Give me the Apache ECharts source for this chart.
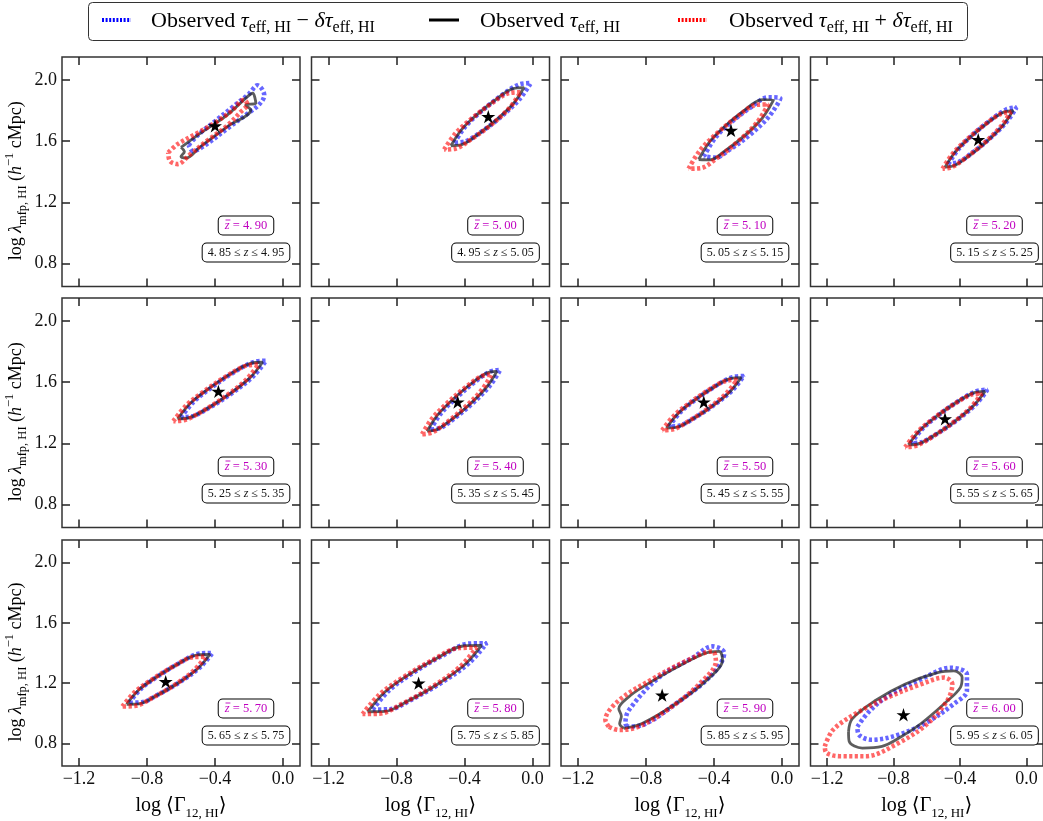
<!DOCTYPE html>
<html><head><meta charset="utf-8">
<script src="https://cdn.jsdelivr.net/npm/echarts@6/dist/echarts.min.js"></script>
<style>html,body{margin:0;padding:0;background:#fff}#c{width:1043px;height:821px}</style>
</head><body><div id="c"></div>
<script>
// ---------------- data ----------------
const zMean = ['4.90','5.00','5.10','5.20','5.30','5.40','5.50','5.60','5.70','5.80','5.90','6.00'];
const zLow  = ['4.85','4.95','5.05','5.15','5.25','5.35','5.45','5.55','5.65','5.75','5.85','5.95'];
const zHigh = ['4.95','5.05','5.15','5.25','5.35','5.45','5.55','5.65','5.75','5.85','5.95','6.05'];
const xTicks = [-1.2, -0.8, -0.4, 0.0];
const yTicks = [0.8, 1.2, 1.6, 2.0];
const bestFit = [[-0.40,1.70],[-0.26,1.76],[-0.30,1.67],[-0.29,1.61],[-0.38,1.54],[-0.44,1.47],[-0.46,1.47],[-0.49,1.36],[-0.69,1.21],[-0.67,1.20],[-0.705,1.12],[-0.74,0.99]];

// observed tau - dtau (blue)
const contourMinus = [
 [[-0.555,1.575],[-0.50,1.64],[-0.40,1.73],[-0.30,1.82],[-0.20,1.91],[-0.15,1.965],[-0.11,1.90],[-0.14,1.84],[-0.22,1.77],[-0.33,1.68],[-0.45,1.58],[-0.53,1.535]],
 [[-0.46,1.59],[-0.393,1.698],[-0.303,1.793],[-0.19,1.893],[-0.078,1.971],[-0.01,1.98],[-0.078,1.872],[-0.19,1.755],[-0.303,1.660],[-0.393,1.599]],
 [[-0.46,1.50],[-0.393,1.621],[-0.303,1.719],[-0.19,1.816],[-0.078,1.887],[-0.01,1.88],[-0.078,1.759],[-0.19,1.640],[-0.303,1.548],[-0.393,1.493]],
 [[-0.47,1.45],[-0.409,1.548],[-0.327,1.637],[-0.224,1.731],[-0.122,1.807],[-0.06,1.82],[-0.122,1.722],[-0.224,1.613],[-0.327,1.523],[-0.409,1.463]],
 [[-0.60,1.37],[-0.525,1.472],[-0.425,1.561],[-0.30,1.656],[-0.175,1.731],[-0.10,1.74],[-0.175,1.638],[-0.30,1.528],[-0.425,1.438],[-0.525,1.380]],
 [[-0.60,1.29],[-0.539,1.395],[-0.457,1.488],[-0.354,1.588],[-0.252,1.668],[-0.19,1.68],[-0.252,1.575],[-0.354,1.460],[-0.457,1.365],[-0.539,1.302]],
 [[-0.665,1.31],[-0.599,1.402],[-0.511,1.483],[-0.401,1.567],[-0.291,1.633],[-0.225,1.64],[-0.291,1.548],[-0.401,1.449],[-0.511,1.369],[-0.599,1.317]],
 [[-0.695,1.20],[-0.626,1.295],[-0.534,1.380],[-0.419,1.469],[-0.304,1.540],[-0.235,1.55],[-0.304,1.455],[-0.419,1.351],[-0.534,1.266],[-0.626,1.210]],
 [[-0.905,1.07],[-0.832,1.166],[-0.734,1.247],[-0.611,1.332],[-0.489,1.397],[-0.415,1.40],[-0.489,1.304],[-0.611,1.204],[-0.734,1.124],[-0.832,1.073]],
 [[-0.94,1.025],[-0.840,1.155],[-0.706,1.265],[-0.538,1.377],[-0.371,1.463],[-0.27,1.465],[-0.371,1.335],[-0.538,1.201],[-0.706,1.094],[-0.840,1.027]],
 [[-0.911,0.911],[-0.921,0.932],[-0.901,1.020],[-0.724,1.237],[-0.527,1.367],[-0.409,1.444],[-0.340,1.400],[-0.409,1.258],[-0.625,1.063],[-0.823,0.922]],
 [[-1.018,0.911],[-0.949,1.009],[-0.830,1.118],[-0.634,1.226],[-0.456,1.302],[-0.358,1.258],[-0.358,1.150],[-0.436,1.063],[-0.594,0.943],[-0.771,0.857],[-0.929,0.824],[-1.008,0.857]]
];
// observed tau (black)
const contourObs = [
 [[-0.60,1.56],[-0.55,1.60],[-0.485,1.652],[-0.327,1.772],[-0.209,1.891],[-0.179,1.913],[-0.160,1.848],[-0.219,1.837],[-0.190,1.804],[-0.327,1.695],[-0.485,1.565],[-0.57,1.49],[-0.60,1.50],[-0.58,1.53]],
 [[-0.48,1.57],[-0.416,1.677],[-0.330,1.770],[-0.222,1.867],[-0.115,1.943],[-0.05,1.95],[-0.115,1.843],[-0.222,1.729],[-0.330,1.637],[-0.416,1.577]],
 [[-0.49,1.48],[-0.424,1.599],[-0.336,1.697],[-0.226,1.797],[-0.116,1.872],[-0.05,1.87],[-0.116,1.751],[-0.226,1.631],[-0.336,1.536],[-0.424,1.478]],
 [[-0.49,1.43],[-0.429,1.528],[-0.347,1.617],[-0.244,1.711],[-0.142,1.787],[-0.08,1.80],[-0.142,1.702],[-0.244,1.593],[-0.347,1.503],[-0.429,1.443]],
 [[-0.62,1.36],[-0.545,1.462],[-0.445,1.551],[-0.32,1.646],[-0.195,1.721],[-0.12,1.73],[-0.195,1.628],[-0.32,1.518],[-0.445,1.428],[-0.545,1.370]],
 [[-0.62,1.28],[-0.559,1.385],[-0.477,1.478],[-0.374,1.578],[-0.272,1.658],[-0.21,1.67],[-0.272,1.565],[-0.374,1.450],[-0.477,1.355],[-0.559,1.292]],
 [[-0.68,1.30],[-0.614,1.392],[-0.526,1.473],[-0.416,1.557],[-0.306,1.623],[-0.24,1.63],[-0.306,1.538],[-0.416,1.439],[-0.526,1.359],[-0.614,1.307]],
 [[-0.71,1.19],[-0.641,1.285],[-0.549,1.370],[-0.434,1.459],[-0.319,1.530],[-0.25,1.54],[-0.319,1.445],[-0.434,1.341],[-0.549,1.256],[-0.641,1.200]],
 [[-0.92,1.06],[-0.847,1.156],[-0.749,1.237],[-0.626,1.322],[-0.504,1.387],[-0.43,1.39],[-0.504,1.294],[-0.626,1.194],[-0.749,1.114],[-0.847,1.063]],
 [[-0.97,1.01],[-0.870,1.140],[-0.736,1.250],[-0.568,1.362],[-0.401,1.448],[-0.30,1.45],[-0.401,1.320],[-0.568,1.186],[-0.736,1.079],[-0.870,1.012]],
 [[-0.93,0.90],[-0.955,0.93],[-0.945,0.98],[-0.96,1.03],[-0.90,1.11],[-0.823,1.172],[-0.625,1.302],[-0.448,1.400],[-0.370,1.411],[-0.350,1.356],[-0.448,1.215],[-0.625,1.063],[-0.823,0.932]],
 [[-1.071,0.878],[-1.049,0.963],[-0.909,1.085],[-0.732,1.193],[-0.535,1.270],[-0.436,1.281],[-0.387,1.237],[-0.397,1.172],[-0.495,1.063],[-0.634,0.932],[-0.752,0.846],[-0.870,0.780],[-0.988,0.769],[-1.067,0.813]]
];
// observed tau + dtau (red)
const contourPlus = [
 [[-0.675,1.525],[-0.62,1.58],[-0.50,1.655],[-0.40,1.72],[-0.30,1.80],[-0.23,1.87],[-0.21,1.84],[-0.25,1.79],[-0.33,1.70],[-0.45,1.60],[-0.55,1.51],[-0.62,1.45],[-0.665,1.47]],
 [[-0.52,1.545],[-0.453,1.651],[-0.363,1.743],[-0.25,1.839],[-0.138,1.914],[-0.07,1.92],[-0.138,1.814],[-0.25,1.701],[-0.363,1.610],[-0.453,1.551]],
 [[-0.55,1.42],[-0.48,1.543],[-0.386,1.648],[-0.268,1.755],[-0.151,1.837],[-0.08,1.84],[-0.151,1.717],[-0.268,1.589],[-0.386,1.486],[-0.48,1.423]],
 [[-0.505,1.42],[-0.444,1.518],[-0.362,1.607],[-0.259,1.701],[-0.157,1.777],[-0.095,1.79],[-0.157,1.692],[-0.259,1.583],[-0.362,1.493],[-0.444,1.433]],
 [[-0.645,1.345],[-0.57,1.447],[-0.47,1.536],[-0.345,1.631],[-0.22,1.706],[-0.145,1.715],[-0.22,1.613],[-0.345,1.503],[-0.47,1.413],[-0.57,1.355]],
 [[-0.65,1.26],[-0.589,1.365],[-0.507,1.458],[-0.404,1.558],[-0.302,1.638],[-0.24,1.65],[-0.302,1.545],[-0.404,1.430],[-0.507,1.335],[-0.589,1.272]],
 [[-0.705,1.285],[-0.639,1.377],[-0.551,1.458],[-0.441,1.542],[-0.331,1.608],[-0.265,1.615],[-0.331,1.523],[-0.441,1.424],[-0.551,1.344],[-0.639,1.292]],
 [[-0.73,1.175],[-0.661,1.270],[-0.569,1.355],[-0.454,1.444],[-0.339,1.515],[-0.27,1.525],[-0.339,1.430],[-0.454,1.326],[-0.569,1.241],[-0.661,1.185]],
 [[-0.945,1.045],[-0.872,1.141],[-0.774,1.222],[-0.651,1.307],[-0.529,1.372],[-0.455,1.375],[-0.529,1.279],[-0.651,1.179],[-0.774,1.099],[-0.872,1.048]],
 [[-1.00,0.995],[-0.900,1.125],[-0.766,1.235],[-0.598,1.347],[-0.431,1.433],[-0.33,1.435],[-0.431,1.305],[-0.598,1.171],[-0.766,1.064],[-0.900,0.997]],
 [[-1.019,0.911],[-1.039,0.955],[-0.960,1.085],[-0.764,1.226],[-0.566,1.346],[-0.409,1.411],[-0.389,1.346],[-0.488,1.193],[-0.665,1.030],[-0.842,0.911],[-0.960,0.889]],
 [[-1.214,0.780],[-1.165,0.889],[-1.027,0.998],[-0.830,1.107],[-0.634,1.193],[-0.495,1.237],[-0.446,1.193],[-0.476,1.085],[-0.594,0.932],[-0.771,0.802],[-0.968,0.715],[-1.126,0.715],[-1.204,0.737]]
];

// ---------------- layout & style ----------------
const F = '"Liberation Serif","DejaVu Serif",serif';
const lefts = [62, 311.5, 561, 810.5], tops = [57, 298, 540], W = 238, H = 229.5;
const STAR = 'path://M50,0L61.2,34.6L97.6,34.5L68.1,55.9L79.4,90.5L50,69L20.6,90.5L31.9,55.9L2.4,34.5L38.8,34.6Z';
function richSet(size, subSize, color) {
  color = color || '#000';
  const ss = subSize || Math.round(size * 0.7);
  return {
    n: {fontFamily: F, fontSize: size, lineHeight: size + 8, verticalAlign: 'middle', color},
    i: {fontFamily: F, fontSize: size, fontStyle: 'italic', lineHeight: size + 8, verticalAlign: 'middle', color},
    s: {fontFamily: F, fontSize: ss, lineHeight: ss + 2, verticalAlign: 'bottom', color},
    p: {fontFamily: F, fontSize: ss, lineHeight: ss + 2, verticalAlign: 'top', color}
  };
}
const mathDot = s => s.replace('.', '.\u2009');
const closed = pts => pts.concat([pts[0]]);
const mctx = document.createElement('canvas').getContext('2d');
function textWidth(str, font) { mctx.font = font; return mctx.measureText(str).width; }

const BOX_FS = 12.5;
const grid = [], xAxis = [], yAxis = [], series = [], graphic = [];
for (let i = 0; i < 12; i++) {
  const r = Math.floor(i / 4), c = i % 4;
  grid.push({left: lefts[c], top: tops[r], width: W, height: H, show: true,
    borderColor: '#333', borderWidth: 1.5, backgroundColor: 'transparent'});
  const tickStyle = {color: '#222', width: 1.5};
  const xa = (pos, lbl) => ({
    gridIndex: i, type: 'value', min: -1.3, max: 0.1, position: pos,
    axisLine: {show: false, onZero: false}, splitLine: {show: false},
    axisTick: {show: true, inside: true, length: 8, customValues: xTicks, lineStyle: tickStyle},
    axisLabel: {show: lbl, customValues: xTicks, margin: 4, fontFamily: F, fontSize: 18, color: '#111',
      formatter: v => (v < -1e-9 ? '\u2212' : '') + Math.abs(v).toFixed(1)},
    name: lbl ? '{n|log \u27e8\u0393}{s|12, HI}{n|\u27e9}' : '',
    nameLocation: 'middle', nameGap: 26, nameTextStyle: {rich: richSet(20, 13)}
  });
  const ya = (pos, lbl) => ({
    gridIndex: i, type: 'value', min: 0.65, max: 2.15, position: pos,
    axisLine: {show: false, onZero: false}, splitLine: {show: false},
    axisTick: {show: true, inside: true, length: 8, customValues: yTicks, lineStyle: tickStyle},
    axisLabel: {show: lbl, customValues: yTicks, margin: 5, fontFamily: F, fontSize: 18, color: '#111',
      formatter: v => v.toFixed(1)},
    name: lbl ? '{n|log }{i|\u03bb}{s|mfp, HI}{n| (}{i|h}{p|\u22121}{n| cMpc)}' : '',
    nameLocation: 'middle', nameGap: 33, nameRotate: 90,
    nameTextStyle: {rich: richSet(18, 12.5), padding: [0, 18, 0, 0]}
  });
  xAxis.push(xa('bottom', r === 2), xa('top', false));
  yAxis.push(ya('left', c === 0), ya('right', false));

  const base = {type: 'line', xAxisIndex: 2 * i, yAxisIndex: 2 * i, smooth: 0.35, symbol: 'none', silent: true, animation: false};
  series.push(Object.assign({}, base, {data: closed(contourMinus[i]), z: 2,
    lineStyle: {color: 'rgba(0,0,255,0.6)', width: 4.6, type: [3.2, 2.4]}}));
  series.push(Object.assign({}, base, {data: closed(contourObs[i]), z: 3,
    lineStyle: {color: 'rgba(30,30,30,0.72)', width: 2.8}}));
  series.push(Object.assign({}, base, {data: closed(contourPlus[i]), z: 4,
    lineStyle: {color: 'rgba(255,0,0,0.6)', width: 4.6, type: [3.2, 2.4]}}));
  series.push({type: 'scatter', xAxisIndex: 2 * i, yAxisIndex: 2 * i, data: [bestFit[i]], symbol: STAR,
    symbolSize: 14, symbolKeepAspect: true, itemStyle: {color: '#000', opacity: 1}, z: 6, silent: true, animation: false});

  // z-bar box (text + overline drawn above the italic z)
  const right = lefts[c] + W, bottom = tops[r] + H;
  const cx = right - 54, cy = bottom - 61;
  const rest = ' = ' + mathDot(zMean[i]);
  const zw = textWidth('z', 'italic ' + BOX_FS + 'px "Liberation Serif"');
  const tw = zw + textWidth(rest, BOX_FS + 'px "Liberation Serif"');
  graphic.push({type: 'text', x: cx, y: cy, z: 100, style: {
    text: '{i|z}{n|' + rest + '}', rich: {
      i: {fontFamily: F, fontSize: BOX_FS, fontStyle: 'italic', fill: '#c000c0'},
      n: {fontFamily: F, fontSize: BOX_FS, fill: '#c000c0'}},
    align: 'center', verticalAlign: 'middle', backgroundColor: '#fff', borderColor: '#000',
    borderWidth: 1, borderRadius: 4, padding: [3, 6, 2, 6]}});
  const zl = cx - tw / 2;
  graphic.push({type: 'line', z: 101, shape: {x1: zl + 0.8, y1: cy - 5.5, x2: zl + zw + 0.8, y2: cy - 5.5},
    style: {stroke: '#c000c0', lineWidth: 0.9}});
  graphic.push({type: 'text', x: cx, y: bottom - 34, z: 100, style: {
    text: '{n|' + mathDot(zLow[i]) + ' \u2264 }{i|z}{n| \u2264 ' + mathDot(zHigh[i]) + '}', rich: {
      i: {fontFamily: F, fontSize: 12, fontStyle: 'italic', fill: '#111'},
      n: {fontFamily: F, fontSize: 12, fill: '#111'}},
    align: 'center', verticalAlign: 'middle', backgroundColor: '#fff', borderColor: '#000',
    borderWidth: 1, borderRadius: 4, padding: [3, 5, 3, 5]}});
}

// legend (drawn as graphic)
const lr = richSet(22, 16);
graphic.push(
  {type: 'rect', shape: {x: 88.5, y: 2.5, width: 879, height: 38, r: 4}, style: {fill: '#fff', stroke: '#333', lineWidth: 1}, z: 100},
  {type: 'line', shape: {x1: 102, y1: 20, x2: 131, y2: 20}, style: {stroke: '#0000ff', lineWidth: 4, lineDash: [2, 1.6]}, z: 101},
  {type: 'text', x: 151, y: 21, z: 101, style: {text: '{n|Observed }{i|\u03c4}{s|eff, HI}{n| \u2212 }{i|\u03b4\u03c4}{s|eff, HI}', rich: lr, verticalAlign: 'middle'}},
  {type: 'line', shape: {x1: 429, y1: 20, x2: 459, y2: 20}, style: {stroke: '#000', lineWidth: 3}, z: 101},
  {type: 'text', x: 480, y: 21, z: 101, style: {text: '{n|Observed }{i|\u03c4}{s|eff, HI}', rich: lr, verticalAlign: 'middle'}},
  {type: 'line', shape: {x1: 678, y1: 20, x2: 707, y2: 20}, style: {stroke: '#ff0000', lineWidth: 4, lineDash: [2, 1.6]}, z: 101},
  {type: 'text', x: 729, y: 21, z: 101, style: {text: '{n|Observed }{i|\u03c4}{s|eff, HI}{n| + }{i|\u03b4\u03c4}{s|eff, HI}', rich: lr, verticalAlign: 'middle'}}
);

const chart = echarts.init(document.getElementById('c'), null, {renderer: 'canvas'});
chart.setOption({animation: false, backgroundColor: '#fff', grid, xAxis, yAxis, series, graphic});
</script></body></html>
